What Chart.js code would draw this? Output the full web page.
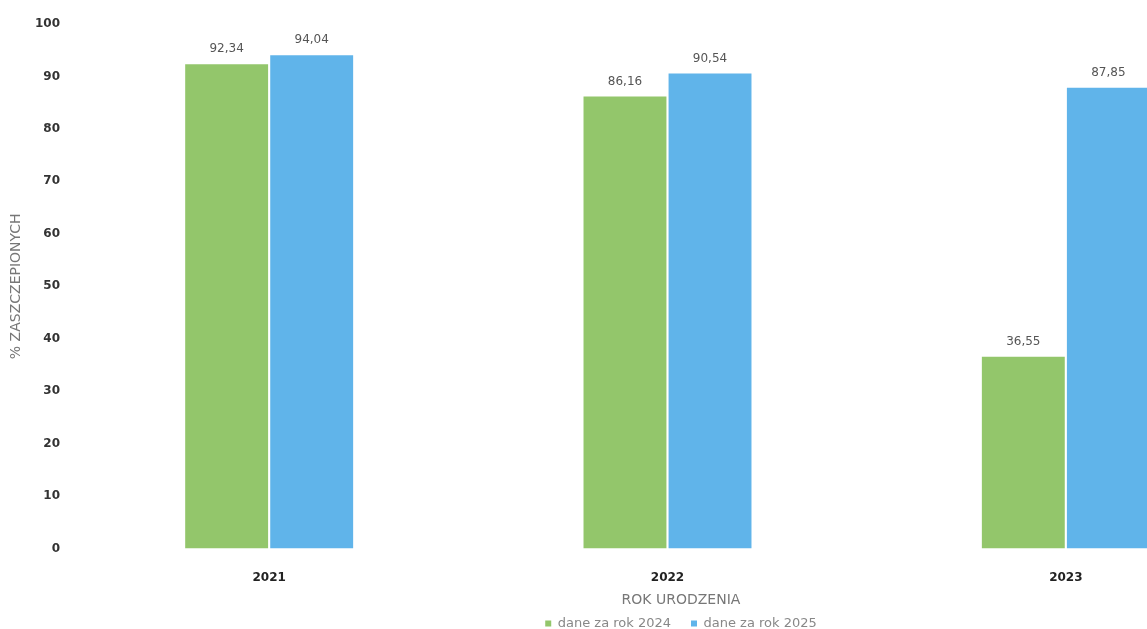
<!DOCTYPE html>
<html>
<head>
<meta charset="utf-8">
<script src="https://cdn.jsdelivr.net/npm/chart.js@4.4.1/dist/chart.umd.min.js"></script>
<style>
  html, body { margin: 0; padding: 0; background: #fff; overflow: hidden; }
  #wrap { width: 1362px; height: 640px; }
</style>
</head>
<body>
<div id="wrap"><canvas id="chart" width="1362" height="640"></canvas></div>
<script>
const years = ['2021', '2022', '2023'];
const data2024 = [92.34, 86.16, 36.55];
const data2025 = [94.04, 90.54, 87.85];
const seriesNames = ['dane za rok 2024', 'dane za rok 2025'];
const yTicks = [0, 10, 20, 30, 40, 50, 60, 70, 80, 90, 100];

// etykiety wartości nad słupkami (przecinek dziesiętny)
const valueLabels = {
  id: 'valueLabels',
  afterDatasetsDraw(chart) {
    const ctx = chart.ctx;
    ctx.save();
    ctx.font = '12px "DejaVu Sans"';
    ctx.fillStyle = '#555';
    ctx.textAlign = 'center';
    ctx.textBaseline = 'bottom';
    chart.data.datasets.forEach((ds, i) => {
      chart.getDatasetMeta(i).data.forEach((bar, j) => {
        const txt = ds.data[j].toFixed(2).replace('.', ',');
        ctx.fillText(txt, bar.x, bar.y - 9);
      });
    });
    ctx.restore();
  }
};

new Chart(document.getElementById('chart'), {
  type: 'bar',
  data: {
    labels: years,
    datasets: [
      { label: seriesNames[0], data: data2024, backgroundColor: '#93c66b' },
      { label: seriesNames[1], data: data2025, backgroundColor: '#60b4ea' }
    ]
  },
  options: {
    responsive: false,
    animation: false,
    barPercentage: 0.975,
    categoryPercentage: 0.427,
    layout: { padding: { top: 24, right: 0, left: 0, bottom: 0 } },
    plugins: {
      tooltip: { enabled: false },
      legend: {
        position: 'bottom',
        title: {
          display: true,
          text: 'ROK URODZENIA',
          color: '#777',
          font: { family: 'DejaVu Sans', size: 14 },
          padding: { top: 9, bottom: -13.3 }
        },
        labels: {
          boxWidth: 6,
          boxHeight: 6,
          padding: 20,
          color: '#888',
          font: { family: 'DejaVu Sans', size: 13 }
        }
      }
    },
    scales: {
      x: {
        afterFit: (scale) => { scale.height = 36; },
        grid: { display: false, drawTicks: false },
        border: { display: false },
        ticks: {
          padding: 22,
          color: '#222',
          font: { family: 'DejaVu Sans', size: 12, weight: 'bold' }
        }
      },
      y: {
        min: 0,
        max: 100,
        afterBuildTicks: (scale) => { scale.ticks = yTicks.map(v => ({ value: v })); },
        afterFit: (scale) => { scale.width = 70; },
        grid: { display: false, drawTicks: false },
        border: { display: false },
        ticks: {
          padding: 10,
          color: '#333',
          font: { family: 'DejaVu Sans', size: 12, weight: 'bold' }
        },
        title: {
          display: true,
          text: '% ZASZCZEPIONYCH',
          color: '#777',
          font: { family: 'DejaVu Sans', size: 14 },
          padding: { top: 8, bottom: 0 }
        }
      },
      // pusta oś po prawej - tylko rezerwuje miejsce, wykres jest ucięty
      yRight: {
        position: 'right',
        afterFit: (scale) => { scale.width = 97; },
        grid: { display: false, drawTicks: false },
        border: { display: false },
        ticks: { display: false }
      }
    }
  },
  plugins: [valueLabels]
});
</script>
</body>
</html>
